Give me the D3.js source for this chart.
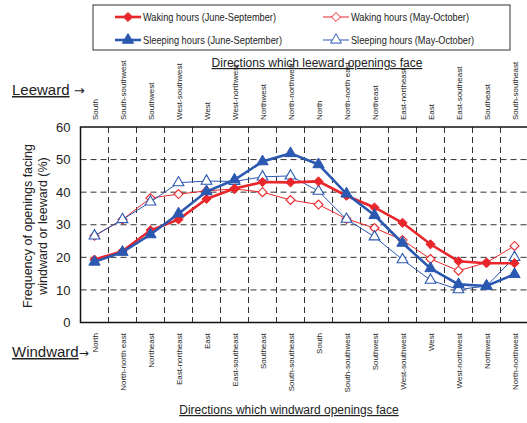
<!DOCTYPE html>
<html>
<head>
<meta charset="utf-8">
<script src="https://cdn.jsdelivr.net/npm/d3@7"></script>
<style>
  body { margin: 0; background: #fff; }
  svg { display: block; }
  text { font-family: "Liberation Sans", Arial, sans-serif; fill: #222; }
</style>
</head>
<body>
<div id="chart"></div>
<script>
'use strict';

// directions (band order along the x axis)
const windwardDirs = ["North", "North-north east", "Northeast", "East-northeast", "East", "East-southeast",
  "Southeast", "South-southeast", "South", "South-southwest", "Southwest", "West-southwest",
  "West", "West-northwest", "Northwest", "North-northwest"];
const leewardDirs = ["South", "South-southwest", "Southwest", "West-southwest", "West", "West-northwest",
  "Northwest", "North-northwest", "North", "North-north east", "Northeast", "East-northeast",
  "East", "East-southeast", "Southeast", "South-southeast"];

// frequency (%) per band
const wakingJuneSep = [19.3, 21.9, 28.3, 31.6, 37.9, 41.1, 43.1, 43.0, 43.3, 38.9, 35.3, 30.6, 24.0, 18.8, 18.2, 18.2];
const wakingMayOct = [26.6, 31.6, 38.2, 39.4, 40.4, 41.0, 40.0, 37.6, 36.2, 31.8, 29.0, 25.3, 19.5, 15.9, 18.4, 23.5];
const sleepingJuneSep = [18.6, 21.6, 27.0, 33.4, 40.2, 43.8, 49.4, 51.9, 48.5, 39.5, 32.9, 24.4, 16.6, 11.7, 11.2, 14.8];
const sleepingMayOct = [26.6, 31.6, 37.0, 42.9, 43.4, 43.3, 44.7, 45.0, 40.3, 31.7, 26.3, 19.3, 13.0, 10.1, 11.2, 20.0];

const yTicks = [0, 10, 20, 30, 40, 50, 60];

const red = "#e8262b";
const blue = "#2b58b0";

const width = 527, height = 423;
const plotLeft = 80.5, plotTop = 127, plotW = 448, plotBottom = 322.5;

const svg = d3.select("#chart").append("svg")
  .attr("width", width)
  .attr("height", height);

const x = d3.scaleBand()
  .domain(d3.range(windwardDirs.length))
  .range([plotLeft, plotLeft + plotW]);

const y = d3.scaleLinear()
  .domain([0, 60])
  .range([plotBottom, plotTop]);

const cx = function(i) { return x(i) + x.bandwidth() / 2; };

// diamond shaped like a square turned 45 degrees
const diamond = {
  draw: function(ctx, size) {
    const r = Math.sqrt(size / 2);
    ctx.moveTo(0, -r);
    ctx.lineTo(r, 0);
    ctx.lineTo(0, r);
    ctx.lineTo(-r, 0);
    ctx.closePath();
  }
};

// grid
const grid = svg.append("g").attr("class", "grid")
  .attr("stroke", "#333")
  .attr("stroke-width", 1)
  .attr("stroke-dasharray", "6,4");

grid.selectAll("line.v")
  .data(d3.range(1, windwardDirs.length))
  .enter().append("line")
    .attr("class", "v")
    .attr("x1", function(d) { return x(d); })
    .attr("x2", function(d) { return x(d); })
    .attr("y1", plotTop)
    .attr("y2", plotBottom);

grid.selectAll("line.h")
  .data(yTicks.slice(1, -1))
  .enter().append("line")
    .attr("class", "h")
    .attr("x1", plotLeft)
    .attr("x2", plotLeft + plotW)
    .attr("y1", function(d) { return y(d); })
    .attr("y2", function(d) { return y(d); });

// frame (right side falls outside the picture)
svg.append("rect")
  .attr("x", plotLeft)
  .attr("y", plotTop)
  .attr("width", plotW)
  .attr("height", plotBottom - plotTop)
  .attr("fill", "none")
  .attr("stroke", "#111")
  .attr("stroke-width", 1.5);

// y axis
const yAxis = svg.append("g")
  .attr("transform", "translate(" + plotLeft + ",0)")
  .call(d3.axisLeft(y).tickValues(yTicks).tickSize(0).tickPadding(10));
yAxis.select(".domain").remove();
yAxis.selectAll("text")
  .style("font-size", "13px")
  .style("font-family", "Liberation Sans, Arial, sans-serif")
  .attr("fill", "#222");

svg.append("text")
  .attr("transform", "translate(32,226) rotate(-90)")
  .attr("text-anchor", "middle")
  .style("font-size", "12.5px")
  .text("Frequency of openings facing");
svg.append("text")
  .attr("transform", "translate(47,226) rotate(-90)")
  .attr("text-anchor", "middle")
  .style("font-size", "12.5px")
  .text("windward or leeward (%)");

// direction labels
svg.append("g").selectAll("text")
  .data(leewardDirs)
  .enter().append("text")
    .attr("transform", function(d, i) { return "translate(" + (cx(i) + 3) + ",120) rotate(-90)"; })
    .attr("text-anchor", "start")
    .style("font-size", "8px")
    .text(function(d) { return d; });

svg.append("g").selectAll("text")
  .data(windwardDirs)
  .enter().append("text")
    .attr("transform", function(d, i) { return "translate(" + (cx(i) + 3) + ",333) rotate(-90)"; })
    .attr("text-anchor", "end")
    .style("font-size", "8px")
    .text(function(d) { return d; });

// titles
svg.append("text")
  .attr("x", 317).attr("y", 67)
  .attr("text-anchor", "middle")
  .style("font-size", "12px")
  .style("text-decoration", "underline")
  .text("Directions which leeward openings face");

svg.append("text")
  .attr("x", 289).attr("y", 414)
  .attr("text-anchor", "middle")
  .style("font-size", "12px")
  .style("text-decoration", "underline")
  .text("Directions which windward openings face");

const lee = svg.append("text").attr("x", 12).attr("y", 95).style("font-size", "15px");
lee.append("tspan").style("text-decoration", "underline").text("Leeward");
lee.append("tspan").style("font-family", "DejaVu Sans").style("font-size", "13px").text(" \u2192");

const wind = svg.append("text").attr("x", 12).attr("y", 357).style("font-size", "15px");
wind.append("tspan").style("text-decoration", "underline").text("Windward");
wind.append("tspan").style("font-family", "DejaVu Sans").style("font-size", "12px").text("\u2192");

// series
const series = [
  { name: "Waking hours (June-September)", values: wakingJuneSep, color: red, width: 2.6, shape: diamond, size: 42, filled: true, textLen: 133 },
  { name: "Waking hours (May-October)", values: wakingMayOct, color: red, width: 1, shape: diamond, size: 40, filled: false, textLen: 118 },
  { name: "Sleeping hours (June-September)", values: sleepingJuneSep, color: blue, width: 2.6, shape: d3.symbolTriangle, size: 55, filled: true, textLen: 139 },
  { name: "Sleeping hours (May-October)", values: sleepingMayOct, color: blue, width: 1, shape: d3.symbolTriangle, size: 50, filled: false, textLen: 123 }
];

const line = d3.line()
  .x(function(d, i) { return cx(i); })
  .y(function(d) { return y(d); });

const drawOrder = [1, 3, 0, 2];
drawOrder.forEach(function(k) {
  const s = series[k];
  const g = svg.append("g");
  g.append("path")
    .datum(s.values)
    .attr("d", line)
    .attr("fill", "none")
    .attr("stroke", s.color)
    .attr("stroke-width", s.width);
  g.selectAll("path.pt")
    .data(s.values)
    .enter().append("path")
      .attr("class", "pt")
      .attr("transform", function(d, i) { return "translate(" + cx(i) + "," + y(d) + ")"; })
      .attr("d", d3.symbol().type(s.shape).size(s.size))
      .attr("fill", s.filled ? s.color : "#fff")
      .attr("stroke", s.color)
      .attr("stroke-width", s.filled ? 1 : 1.1);
});

// legend
const legend = svg.append("g");
legend.append("rect")
  .attr("x", 93).attr("y", 5)
  .attr("width", 417).attr("height", 45)
  .attr("fill", "#fff")
  .attr("stroke", "#333")
  .attr("stroke-width", 1);

const legendPos = [[115, 17], [323, 17], [115, 40], [323, 40]];
series.forEach(function(s, k) {
  const p = legendPos[k];
  const item = legend.append("g").attr("transform", "translate(" + p[0] + "," + p[1] + ")");
  item.append("line")
    .attr("x1", 0).attr("x2", 26)
    .attr("stroke", s.color)
    .attr("stroke-width", s.width);
  item.append("path")
    .attr("transform", "translate(13,0)")
    .attr("d", d3.symbol().type(s.shape).size(s.size))
    .attr("fill", s.filled ? s.color : "#fff")
    .attr("stroke", s.color);
  item.append("text")
    .attr("x", 28).attr("y", 4)
    .attr("textLength", s.textLen)
    .attr("lengthAdjust", "spacingAndGlyphs")
    .style("font-size", "11px")
    .text(s.name);
});
</script>
</body>
</html>
